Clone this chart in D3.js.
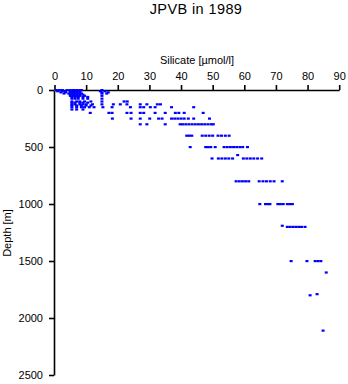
<!DOCTYPE html>
<html><head><meta charset="utf-8">
<script src="https://cdn.jsdelivr.net/npm/d3@7"></script>
<style>
body{margin:0;background:#fff;}
svg{display:block;}
text{font-family:"Liberation Sans",Arial,Helvetica,sans-serif;fill:#000;}
</style></head>
<body><svg id="c" width="348" height="384"></svg>
<script>
const titleText = "JPVB in 1989";
const xLabel = "Silicate [\u00b5mol/l]";
const yLabel = "Depth [m]";
const xTicks = [0,10,20,30,40,50,60,70,80,90];
const yTicks = [0,500,1000,1500,2000,2500];
const depthLevels = [0,10,20,30,40,50,60,75,100,110,125,135,150,170,200,250,300,400,500,570,600,800,1000,1190,1200,1500,1600,1790,1800,2110];
const silicateAtLevel = [
  [0.5,1.5,2.5,4,5,6,7,8,8.5,15],
  [1,2.5,3.5,5,6,7,8,14.5,16],
  [2,3.5,5,6,7,8,15,17],
  [3,4.5,5.5,6.5,7.5,8.5,15,16.5],
  [5,6,7,8,9],
  [5,6,7,8,9.5,15],
  [5.5,6.5,7.5,9,10.5],
  [5.5,6.5,7.5,9,10.5,15],
  [5.5,7,8,9.5,11.5,15,22,23],
  [5.5,6.5,8,9,10.5],
  [5.5,6.5,8,9,10,12,15,18.6,20.8,22.9,27.1,29.2,32.5,33.5],
  [5.5,7,8.5,10,11.5],
  [5.5,7,8.5,9.5,11,12.5,15.3,18.2,24,27.1,28.2,30.3,31.8,37,44],
  [5.5,7,9],
  [11.3,17.2,18.2,22.9,24.2,27.1,28.2,31.8,35,38.2,39.3,41,47],
  [18.3,24.2,27.1,30.1,32.9,34,37,38,39,40,41,42.3,44,49],
  [27.1,29.2,35,39.7,40.5,41.5,42.5,43.5,44.5,45.5,46.5,47.5,48.5,49.5,50.2],
  [41.8,42.6,43.4,46.7,47.8,48.9,50,51.7,52.8,54,55.2],
  [42.9,47.8,48.6,49.4,50.8,53.6,54.6,55.6,56.6,57.6,58.6,59.5,61],
  [57.9],
  [49.8,51.8,52.9,54,55.1,56.3,59.7,60.8,61.9,63,64.2,65.5],
  [57.4,58.4,59.4,60.4,61.4,64.7,65.9,67,68.2,69.4,72],
  [64.9,66.7,67.5,68.1,70.6,71.4,72.3,73.6,74.4,75.2],
  [72],
  [73.6,74.5,75.4,76.3,77.2,78.1,79.2],
  [74.8,79.8,82.4,83.3,84.2],
  [85.9],
  [83],
  [80.8],
  [84.9]
];

const points = [];
depthLevels.forEach((d,i)=>silicateAtLevel[i].forEach(s=>points.push({s,d})));

const svg = d3.select("#c");
const x = d3.scaleLinear().domain([0,90]).range([54.5,339.2]);
const y = d3.scaleLinear().domain([0,2500]).range([90,375]);

svg.append("text").attr("x",196).attr("y",13.5).attr("text-anchor","middle")
  .style("font-size","14.5px").style("letter-spacing","0.4px").text(titleText);

const xa = svg.append("g").attr("transform","translate(0,90)")
  .call(d3.axisTop(x).tickValues(xTicks).tickSize(5).tickSizeOuter(0).tickPadding(5).tickFormat(d3.format("d")));
const ya = svg.append("g").attr("transform","translate(54,0)")
  .call(d3.axisLeft(y).tickValues(yTicks).tickSize(5).tickSizeOuter(0).tickPadding(6).tickFormat(d3.format("d")));
[xa,ya].forEach(g=>{
  g.selectAll("path,line").attr("stroke","#000").attr("stroke-width",1.6);
  g.selectAll("text").style("font-size","11px").attr("fill","#000").style("font-family","'Liberation Sans',Arial,sans-serif");
});

svg.append("text").attr("x",197).attr("y",64).attr("text-anchor","middle")
  .style("font-size","11px").text(xLabel);
svg.append("text").attr("transform","translate(11,233) rotate(-90)").attr("text-anchor","middle")
  .style("font-size","11px").text(yLabel);

svg.append("g").selectAll("rect").data(points).join("rect")
  .attr("x",p=>x(p.s)-1.5).attr("y",p=>y(p.d)-1)
  .attr("width",3).attr("height",2.2).attr("fill","#0000ff");
</script></body></html>
